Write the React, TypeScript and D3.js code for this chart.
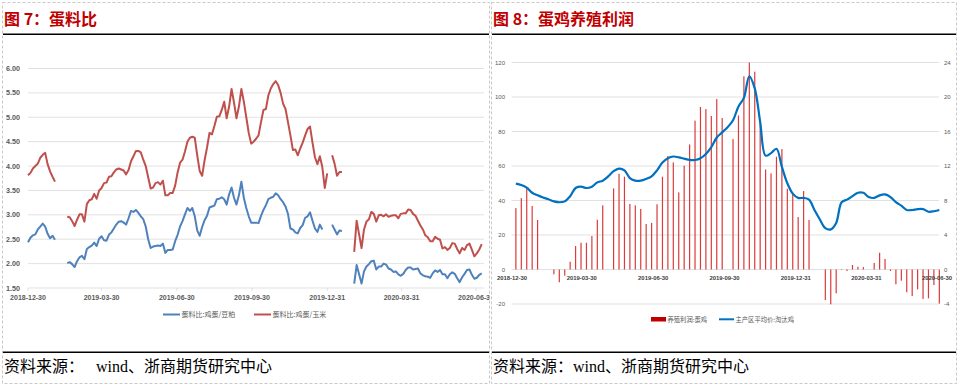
import React from "react";
import * as d3 from "d3";

// ---------- Figure 7: egg / feed ratios (every 3 days from 2018-12-30) ----------
const ratioStart = "2018-12-30";
const ratioStepDays = 3;
const eggSoymealRatio: (number | null)[] = [
  2.44, 2.53, 2.58, 2.60, 2.70, 2.76, 2.82, 2.76, 2.61, 2.52,
  2.57, 2.49, null, null, null, null, 2.01, 2.03, 1.99, 1.93,
  2.05, 2.13, 2.16, 2.09, 2.30, 2.34, 2.37, 2.43, 2.36, 2.51,
  2.56, 2.48, 2.47, 2.59, 2.64, 2.72, 2.80, 2.86, 2.87, 2.84,
  2.80, 2.93, 3.08, 3.06, 3.10, 3.04, 2.97, 2.91, 2.76, 2.50,
  2.32, 2.35, 2.36, 2.37, 2.36, 2.41, 2.22, 2.28, 2.28, 2.29,
  2.46, 2.59, 2.76, 2.87, 3.01, 3.14, 3.08, 3.14, 2.97, 2.68,
  2.57, 2.75, 2.89, 2.98, 3.15, 3.17, 3.19, 3.32, 3.33, 3.36,
  3.32, 3.21, 3.42, 3.56, 3.35, 3.21, 3.40, 3.68, 3.35, 3.14,
  2.97, 2.84, 2.84, 2.84, 2.83, 2.98, 3.10, 3.20, 3.32, 3.35,
  3.37, 3.44, 3.40, 3.32, 3.26, 3.17, 3.02, 2.72, 2.70, 2.64,
  2.62, 2.73, 2.79, 2.94, 2.97, 3.05, 2.88, 2.72, 2.65, 2.80,
  2.70, null, null, null, 2.80, 2.70, 2.60, 2.68, 2.67, null,
  null, null, null, 1.59, 1.97, 1.78, 1.59, 1.84, 1.94, 1.99,
  2.05, 2.06, 1.88, 1.94, 1.94, 2.00, 1.98, 1.90, 1.88, 1.83,
  1.84, 1.78, 1.75, 1.79, 1.87, 1.92, 1.92, 1.88, 1.89, 1.90,
  1.80, 1.76, 1.74, 1.73, 1.71, 1.80, 1.86, 1.83, 1.87, 1.78,
  1.78, 1.70, 1.78, 1.82, 1.79, 1.70, 1.62, 1.72, 1.79, 1.87,
  1.88, 1.77, 1.69, 1.71, 1.77, 1.80,
];
const eggCornRatio: (number | null)[] = [
  3.81, 3.86, 3.95, 4.00, 4.05, 4.17, 4.23, 4.27, 4.04, 3.89,
  3.78, 3.68, null, null, null, null, 2.96, 2.95, 2.87, 2.77,
  2.90, 3.01, 3.01, 2.86, 3.22, 3.30, 3.32, 3.43, 3.33, 3.50,
  3.55, 3.65, 3.66, 3.78, 3.79, 3.87, 3.93, 3.95, 3.93, 3.91,
  3.83, 3.92, 4.10, 4.20, 4.31, 4.31, 4.28, 4.13, 4.00, 3.77,
  3.54, 3.56, 3.65, 3.67, 3.62, 3.70, 3.40, 3.40, 3.45, 3.45,
  3.60, 3.87, 4.07, 4.13, 4.30, 4.50, 4.58, 4.60, 4.58, 4.22,
  3.90, 3.80, 4.12, 4.38, 4.68, 4.65, 4.82, 5.01, 5.02, 5.15,
  5.32, 4.98, 5.22, 5.58, 5.30, 4.98, 5.22, 5.58, 5.32, 5.00,
  4.68, 4.46, 4.50, 4.56, 4.63, 4.90, 5.15, 5.17, 5.45, 5.59,
  5.68, 5.74, 5.66, 5.50, 5.28, 5.17, 4.90, 4.63, 4.33, 4.34,
  4.22, 4.36, 4.48, 4.63, 4.76, 4.81, 4.48, 4.18, 4.04, 4.20,
  3.98, 3.55, 3.85, null, 4.22, 4.05, 3.80, 3.88, 3.88, null,
  null, null, null, 2.24, 2.88, 2.60, 2.32, 2.70, 2.86, 2.91,
  3.06, 3.02, 2.86, 2.99, 3.00, 2.97, 3.01, 2.96, 2.98, 2.99,
  2.99, 2.93, 3.02, 3.03, 3.03, 3.11, 3.10, 3.02, 2.98, 2.88,
  2.78, 2.70, 2.58, 2.54, 2.46, 2.46, 2.55, 2.51, 2.49, 2.31,
  2.34, 2.28, 2.32, 2.42, 2.41, 2.30, 2.21, 2.32, 2.28, 2.38,
  2.41, 2.28, 2.15, 2.21, 2.29, 2.40,
];
const ratioTicks = [1.5, 2.0, 2.5, 3.0, 3.5, 4.0, 4.5, 5.0, 5.5, 6.0];
const dateTicks = ["2018-12-30", "2019-03-30", "2019-06-30", "2019-09-30", "2019-12-31", "2020-03-31", "2020-06-30"];
const ratioSeriesNames = ["蛋料比:鸡蛋/豆粕", "蛋料比:鸡蛋/玉米"];

// ---------- Figure 8: layer profit (weekly from 2019-01-04) ----------
const profitStart = "2019-01-04";
const profitStepDays = 7;
const layerProfit: (number | null)[] = [
  35.6, 41.4, 47.4, 36.8, 28.7, null, null, -2.8, -7.4, -3.6,
  4.5, 13.6, 15.5, 15.5, 19.4, 28.9, 37.2, null, 47.0, 55.5,
  53.8, 38.0, 37.2, 35.1, 26.4, 27.0, 37.8, 53.8, 65.8, 62.1,
  44.7, 60.2, 72.5, 86.3, 94.2, 93.0, 89.0, 98.8, 87.8, null,
  75.6, 89.3, 112.0, 120.0, 114.7, 86.3, 58.0, 55.7, 65.4, 69.8,
  46.8, 44.1, 30.4, 45.5, 28.7, null, null, -17.7, -20.2, -13.8,
  0.3, -0.9, 2.6, 1.6, 1.4, null, 3.8, 9.7, 6.1, -0.9,
  -8.6, -6.5, -13.2, -15.4, -11.5, -17.1, -16.7, -9.0, -19.8,
];
const cullHenPrice: number[] = [
  9.95, 9.8, 9.5, 8.9, 8.6, 8.35, 8.15, 7.9, 7.8, 7.9,
  8.5, 9.45, 9.6, 9.45, 9.6, 10.1, 10.3, 10.8, 11.4, 11.7,
  11.5, 10.6, 10.3, 10.3, 10.5, 10.8, 11.5, 12.4, 12.9, 13.1,
  13.0, 12.85, 12.7, 12.7, 12.9, 13.4, 14.2, 15.3, 15.9, 16.5,
  17.3, 18.9, 19.9, 22.4, 21.0, 17.1, 13.2, 13.5, 14.0, 11.9,
  10.0, 8.8, 8.3, 8.3, 8.1, 6.9, 5.8, 4.8, 4.65, 5.4,
  7.8, 8.1, 8.5, 8.9, 8.9, 8.4, 8.3, 8.6, 8.7, 8.4,
  7.8, 7.4, 6.9, 6.9, 7.0, 7.0, 6.7, 6.75, 6.9,
];
const profitTicks = [-20, 0, 20, 40, 60, 80, 100, 120];
const priceTicks = [-4, 0, 4, 8, 12, 16, 20, 24];
const profitSeriesNames = ["养殖利润:蛋鸡", "主产区平均价:淘汰鸡"];

const parse = d3.timeParse("%Y-%m-%d");
const ratioDates = eggCornRatio.map((_, i) => d3.timeDay.offset(parse(ratioStart)!, i * ratioStepDays));
const profitDates = layerProfit.map((_, i) => d3.timeDay.offset(parse(profitStart)!, i * profitStepDays));
const tickDates = dateTicks.map((s) => parse(s)!);

const BLUE = "#4F81BD";
const RED = "#C0504D";
const GRID = "#D9D9D9";
const LABEL = "#595959";
const SANS = "'Liberation Sans', Arial, 'Noto Sans CJK SC', sans-serif";
const CJK = "'Noto Sans CJK SC', 'Liberation Sans', sans-serif";
const SERIF = "'Liberation Serif', 'Noto Sans CJK SC', serif";

export default function App() {
  // left chart scales
  const xL = d3.scaleTime().domain([tickDates[0], tickDates[6]]).range([28, 476]);
  const yL = d3.scaleLinear().domain([1.5, 6]).range([288, 68.5]);
  const ratioLine = d3
    .line<number | null>()
    .defined((v) => v != null)
    .x((_, i) => xL(ratioDates[i]))
    .y((v) => yL(v as number));

  // right chart scales
  const xR = d3.scaleTime().domain([tickDates[0], tickDates[6]]).range([512, 937]);
  const yP = d3.scaleLinear().domain([-20, 120]).range([304, 62.5]);
  const yQ = d3.scaleLinear().domain([-4, 24]).range([304, 62.5]);
  const priceLine = d3
    .line<number>()
    .x((_, i) => xR(profitDates[i]))
    .y((v) => yQ(v))
    .curve(d3.curveCatmullRom.alpha(0.5));

  return (
    <svg
      width={960}
      height={387}
      style={{ position: "absolute", left: 0, top: 0, background: "#fff" }}
    >
      <defs>
        <clipPath id="leftClip">
          <rect x={0} y={0} width={489.5} height={387} />
        </clipPath>
      </defs>
      <rect x={0} y={0} width={960} height={387} fill="#fff" />

      {/* panel borders */}
      <rect x={2.5} y={2.5} width={487} height={381} fill="none" stroke="#C8C8C8" strokeDasharray="3,2" />
      <rect x={491.5} y={2.5} width={465} height={381} fill="none" stroke="#C8C8C8" strokeDasharray="3,2" />

      {/* titles */}
      <text x={4} y={24.5} fontFamily={CJK} fontSize={16} fontWeight="bold" fill="#C00000">图 7：蛋料比</text>
      <text x={493} y={24.5} fontFamily={CJK} fontSize={16} fontWeight="bold" fill="#C00000">图 8：蛋鸡养殖利润</text>
      <line x1={3} x2={489} y1={34.3} y2={34.3} stroke="#000" strokeWidth={1.4} />
      <line x1={492} x2={956} y1={34.3} y2={34.3} stroke="#000" strokeWidth={1.4} />

      {/* footers */}
      <line x1={3} x2={489} y1={352.3} y2={352.3} stroke="#000" strokeWidth={1.4} />
      <line x1={492} x2={956} y1={352.3} y2={352.3} stroke="#000" strokeWidth={1.4} />
      <text x={4} y={372} fontFamily={SERIF} fontSize={16} fill="#000">资料来源：</text>
      <text x={96} y={372} fontFamily={SERIF} fontSize={16} fill="#000">wind、浙商期货研究中心</text>
      <text x={493} y={372} fontFamily={SERIF} fontSize={16} fill="#000">资料来源：wind、浙商期货研究中心</text>

      {/* ===== Left chart ===== */}
      <g clipPath="url(#leftClip)">
        {ratioTicks.map((t) => (
          <g key={t}>
            <line x1={28} x2={484} y1={yL(t)} y2={yL(t)} stroke={GRID} strokeWidth={0.8} />
            <text x={20} y={yL(t) + 2.5} textAnchor="end" fontFamily={SANS} fontSize={7.2} fontWeight="bold" fill={LABEL}>
              {t.toFixed(2)}
            </text>
          </g>
        ))}
        {tickDates.map((d, i) => (
          <g key={i}>
            <line x1={xL(d)} x2={xL(d)} y1={288} y2={291} stroke={GRID} strokeWidth={0.8} />
            <text x={xL(d)} y={299.5} textAnchor="middle" fontFamily={SANS} fontSize={7} fontWeight="bold" fill={LABEL}>
              {dateTicks[i]}
            </text>
          </g>
        ))}
        <path d={ratioLine(eggSoymealRatio) || ""} fill="none" stroke={BLUE} strokeWidth={2} strokeLinejoin="round" />
        <path d={ratioLine(eggCornRatio) || ""} fill="none" stroke={RED} strokeWidth={2} strokeLinejoin="round" />
      </g>
      {/* left legend */}
      <line x1={163} x2={180} y1={314.5} y2={314.5} stroke={BLUE} strokeWidth={2} />
      <text x={181.5} y={317} fontFamily={CJK} fontSize={7} fill={LABEL}>{ratioSeriesNames[0]}</text>
      <line x1={254} x2={271} y1={314.5} y2={314.5} stroke={RED} strokeWidth={2} />
      <text x={272.5} y={317} fontFamily={CJK} fontSize={7} fill={LABEL}>{ratioSeriesNames[1]}</text>

      {/* ===== Right chart ===== */}
      {profitTicks.map((t, i) => (
        <g key={t}>
          <line x1={511.7} x2={939} y1={yP(t)} y2={yP(t)} stroke={GRID} strokeWidth={0.8} />
          <text x={505} y={yP(t) + 2.2} textAnchor="end" fontFamily={SANS} fontSize={6} fill={LABEL}>{t}</text>
          <text x={944} y={yQ(priceTicks[i]) + 2.2} textAnchor="start" fontFamily={SANS} fontSize={6} fill={LABEL}>
            {priceTicks[i]}
          </text>
        </g>
      ))}
      {layerProfit.map((v, i) =>
        v == null ? null : (
          <rect
            key={i}
            x={xR(profitDates[i]) - 0.6}
            width={1.2}
            y={Math.min(yP(0), yP(v))}
            height={Math.abs(yP(v) - yP(0))}
            fill="#D83C3C"
          />
        )
      )}
      {tickDates.map((d, i) => (
        <text key={i} x={xR(d)} y={279.5} textAnchor="middle" fontFamily={SANS} fontSize={5.9} fontWeight="bold" fill="#404040">
          {dateTicks[i]}
        </text>
      ))}
      <path d={priceLine(cullHenPrice) || ""} fill="none" stroke="#0070C0" strokeWidth={2.2} strokeLinejoin="round" />

      {/* right legend */}
      <rect x={651} y={317} width={15} height={4.5} fill="#C00000" />
      <text x={667.5} y={321.5} fontFamily={CJK} fontSize={6.3} fill={LABEL}>{profitSeriesNames[0]}</text>
      <line x1={719} x2={734} y1={319.3} y2={319.3} stroke="#0070C0" strokeWidth={2} />
      <text x={735.5} y={321.5} fontFamily={CJK} fontSize={6.3} fill={LABEL}>{profitSeriesNames[1]}</text>
    </svg>
  );
}
